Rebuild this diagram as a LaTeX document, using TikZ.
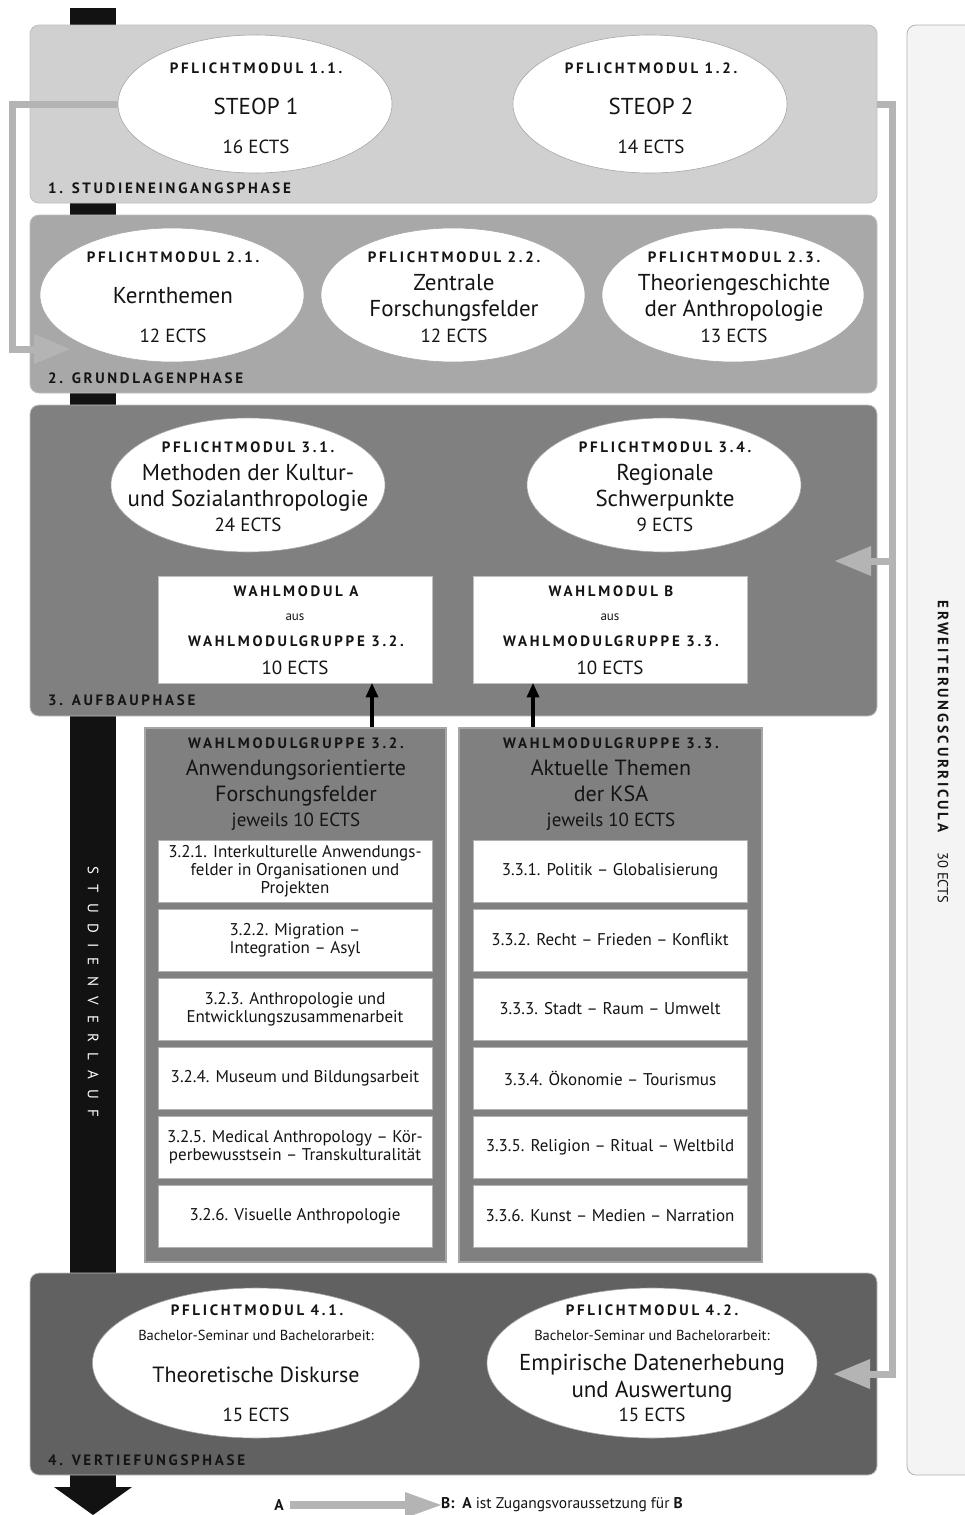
\documentclass[tikz,border=0pt]{standalone}
\usepackage{fontspec}
\setmainfont{PT Sans}
\newfontfamily\spc[LetterSpace=18]{PT Sans}
\newfontfamily\wdsp[LetterSpace=68]{PT Sans}
\usetikzlibrary{shapes.geometric,arrows.meta,calc}
\definecolor{pa}{HTML}{D0D0D0}
\definecolor{pb}{HTML}{A8A8A8}
\definecolor{pc}{HTML}{808080}
\definecolor{pd}{HTML}{616161}
\definecolor{gcol}{HTML}{B4B4B4}
\definecolor{ink}{HTML}{141414}
\definecolor{svk}{HTML}{121212}
\definecolor{erwf}{HTML}{F4F4F4}
\begin{document}
\begin{tikzpicture}[x=1pt,y=-1pt,
  phase/.style={rectangle, rounded corners=9pt, draw=white!75!black, line width=0.8pt, minimum width=847pt, inner sep=0pt},
  ell/.style={ellipse, fill=white, draw=black!35, line width=0.6pt, inner sep=0pt},
  hd/.style={font=\spc\bfseries\fontsize{15}{16}\selectfont, text=ink, inner sep=0pt, anchor=base, yshift=-5.2pt},
  pl/.style={font=\spc\bfseries\fontsize{15}{16}\selectfont, text=ink, inner sep=0pt, anchor=base west, yshift=-5.2pt},
  big/.style={font=\fontsize{23}{25}\selectfont, text=ink, inner sep=0pt, anchor=base, yshift=-8pt},
  mid/.style={font=\fontsize{22}{24}\selectfont, text=ink, inner sep=0pt, anchor=base, yshift=-7.7pt},
  ects/.style={font=\fontsize{19}{21}\selectfont, text=ink, inner sep=0pt, anchor=base, yshift=-6.6pt},
  sm/.style={font=\fontsize{14.5}{16}\selectfont, text=ink, inner sep=0pt, anchor=base, yshift=-5pt},
  aus/.style={font=\fontsize{13}{14}\selectfont, text=ink, inner sep=0pt, anchor=base, yshift=-3.3pt},
  wbox/.style={rectangle, fill=white, draw=black!25, line width=0.6pt, minimum width=274pt, minimum height=107pt, inner sep=0pt},
  wg/.style={rectangle, fill=pc, draw=black!35, line width=1.5pt, minimum height=534pt, inner sep=0pt},
  item/.style={rectangle, fill=white, draw=black!30, line width=0.6pt, minimum width=274pt, minimum height=62pt, inner sep=2pt, align=center, font=\fontsize{17}{18}\selectfont, text=ink},
  gconn/.style={draw=gcol, line width=7pt, line join=miter, -{Triangle[length=36pt,width=30pt,line width=0pt]}},
  barrow/.style={draw=black, line width=3.5pt, -{Triangle[length=14pt,width=13pt,line width=0pt]}},
  lg/.style={font=\fontsize{15.5}{17}\selectfont, text=ink, inner sep=0pt}
]
\useasboundingbox (0,0) rectangle (965,1515);
\fill[white] (0,0) rectangle (965,1515);

% Erweiterungscurricula box
\node[rectangle, rounded corners=9pt, fill=erwf, draw=black!30, line width=0.8pt, minimum width=96pt, minimum height=1450pt, inner sep=0pt] (erw) at (955,750) {};
\node[rotate=-90, inner sep=0pt, text=ink, font=\fontsize{14.5}{16}\selectfont] (erwt) at (943,752) {{\spc\bfseries\fontsize{15}{16}\selectfont ERWEITERUNGSCURRICULA}\hspace{20pt}30 ECTS};

% Studienverlauf arrow
\fill[svk] (70,8) rectangle (116,1488);
\fill[svk] (54,1487) -- (132,1487) -- (93,1515) -- cycle;
\node[rotate=-90, inner sep=0pt, text=white, font=\wdsp\fontsize{15}{17}\selectfont] (svt) at (93,992) {STUDIENVERLAUF};

% Phases
\node[phase, fill=pa, minimum height=178pt] (p1) at (453.5,114) {};
\node[phase, fill=pb, minimum height=178pt] (p2) at (453.5,304) {};
\node[phase, fill=pc, minimum height=311pt] (p3) at (453.5,560.5) {};
\node[phase, fill=pd, minimum height=202pt] (p4) at (453.5,1374) {};
\node[pl] (l1) at (48,188) {1. STUDIENEINGANGSPHASE};
\node[pl] (l2) at (48,378) {2. GRUNDLAGENPHASE};
\node[pl] (l3) at (48,700) {3. AUFBAUPHASE};
\node[pl] (l4) at (48,1460) {4. VERTIEFUNGSPHASE};

% Phase 1
\node[ell, minimum width=274pt, minimum height=138pt] (e11) at (255,104) {};
\node[hd] (e11a) at (256,68) {PFLICHTMODUL 1.1.};
\node[big] (e11b) at (256,106) {STEOP 1};
\node[ects] (e11c) at (256,147) {16 ECTS};
\node[ell, minimum width=274pt, minimum height=138pt] (e12) at (650,104) {};
\node[hd] (e12a) at (651,68) {PFLICHTMODUL 1.2.};
\node[big] (e12b) at (651,106) {STEOP 2};
\node[ects] (e12c) at (651,147) {14 ECTS};

% Phase 2
\node[ell, minimum width=264pt, minimum height=134pt] (e21) at (172,295) {};
\node[hd] (e21a) at (173,257) {PFLICHTMODUL 2.1.};
\node[big] (e21b) at (173,295) {Kernthemen};
\node[ects] (e21c) at (173,336) {12 ECTS};
\node[ell, minimum width=264pt, minimum height=134pt] (e22) at (453,295) {};
\node[hd] (e22a) at (454,257) {PFLICHTMODUL 2.2.};
\node[big] (e22b) at (454,282) {Zentrale};
\node[big] (e22c) at (454,308) {Forschungsfelder};
\node[ects] (e22d) at (454,336) {12 ECTS};
\node[ell, minimum width=262pt, minimum height=134pt] (e23) at (733,295) {};
\node[hd] (e23a) at (734,257) {PFLICHTMODUL 2.3.};
\node[big] (e23b) at (734,282) {Theoriengeschichte};
\node[big] (e23c) at (734,308) {der Anthropologie};
\node[ects] (e23d) at (734,336) {13 ECTS};

% Phase 3
\node[ell, minimum width=274pt, minimum height=134pt] (e31) at (248,485) {};
\node[hd] (e31a) at (248,447) {PFLICHTMODUL 3.1.};
\node[big] (e31b) at (248,472) {Methoden der Kultur-};
\node[big] (e31c) at (248,498) {und Sozialanthropologie};
\node[ects] (e31d) at (248,525) {24 ECTS};
\node[ell, minimum width=274pt, minimum height=134pt] (e34) at (664,485) {};
\node[hd] (e34a) at (665,447) {PFLICHTMODUL 3.4.};
\node[big] (e34b) at (665,472) {Regionale};
\node[big] (e34c) at (665,498) {Schwerpunkte};
\node[ects] (e34d) at (665,525) {9 ECTS};

\node[wbox] (wmA) at (295,629.5) {};
\node[hd] (wmA1) at (296,591) {WAHLMODUL A};
\node[aus] (wmA2) at (295,617) {aus};
\node[hd] (wmA3) at (296,641) {WAHLMODULGRUPPE 3.2.};
\node[ects] (wmA4) at (295,668) {10 ECTS};
\node[wbox] (wmB) at (610,629.5) {};
\node[hd] (wmB1) at (611,591) {WAHLMODUL B};
\node[aus] (wmB2) at (610,617) {aus};
\node[hd] (wmB3) at (611,641) {WAHLMODULGRUPPE 3.3.};
\node[ects] (wmB4) at (610,668) {10 ECTS};

% Wahlmodulgruppen
\node[wg, minimum width=301pt] (wg32) at (295.5,995) {};
\node[hd] (wg32a) at (296,743) {WAHLMODULGRUPPE 3.2.};
\node[mid] (wg32b) at (296,768) {Anwendungsorientierte};
\node[mid] (wg32c) at (296,794) {Forschungsfelder};
\node[ects] (wg32d) at (296,820) {jeweils 10 ECTS};
\node[wg, minimum width=303pt] (wg33) at (610.5,995) {};
\node[hd] (wg33a) at (611,743) {WAHLMODULGRUPPE 3.3.};
\node[mid] (wg33b) at (611,768) {Aktuelle Themen};
\node[mid] (wg33c) at (611,794) {der KSA};
\node[ects] (wg33d) at (611,820) {jeweils 10 ECTS};

\node[item] (i321) at (295,871) {3.2.1. Interkulturelle Anwendungs-\\felder in Organisationen und\\Projekten};
\node[item] (i322) at (295,940) {3.2.2. Migration --\\Integration -- Asyl};
\node[item] (i323) at (295,1009) {3.2.3. Anthropologie und\\Entwicklungszusammenarbeit};
\node[item] (i324) at (295,1078) {3.2.4. Museum und Bildungsarbeit};
\node[item] (i325) at (295,1147) {3.2.5. Medical Anthropology -- Kör-\\perbewusstsein -- Transkulturalität};
\node[item] (i326) at (295,1216) {3.2.6. Visuelle Anthropologie};
\node[item] (i331) at (610,871) {3.3.1. Politik -- Globalisierung};
\node[item] (i332) at (610,940) {3.3.2. Recht -- Frieden -- Konflikt};
\node[item] (i333) at (610,1009) {3.3.3. Stadt -- Raum -- Umwelt};
\node[item] (i334) at (610,1078) {3.3.4. Ökonomie -- Tourismus};
\node[item] (i335) at (610,1147) {3.3.5. Religion -- Ritual -- Weltbild};
\node[item] (i336) at (610,1216) {3.3.6. Kunst -- Medien -- Narration};

\draw[barrow] ([xshift=76.5pt]wg32.north) -- ([xshift=77pt]wmA.south);
\draw[barrow] ([xshift=-77.5pt]wg33.north) -- ([xshift=-77pt]wmB.south);

% Phase 4
\node[ell, minimum width=327pt, minimum height=150pt] (e41) at (256,1363) {};
\node[hd] (e41a) at (257,1310) {PFLICHTMODUL 4.1.};
\node[sm] (e41b) at (256,1335) {Bachelor-Seminar und Bachelorarbeit:};
\node[mid] (e41c) at (256,1375) {Theoretische Diskurse};
\node[ects] (e41d) at (256,1415) {15 ECTS};
\node[ell, minimum width=330pt, minimum height=150pt] (e42) at (652,1363) {};
\node[hd] (e42a) at (652,1310) {PFLICHTMODUL 4.2.};
\node[sm] (e42b) at (652,1335) {Bachelor-Seminar und Bachelorarbeit:};
\node[big] (e42c) at (652,1362) {Empirische Datenerhebung};
\node[big] (e42d) at (652,1389) {und Auswertung};
\node[ects] (e42e) at (652,1415) {15 ECTS};

% Gray prerequisite connectors
\coordinate (lt) at (12,104);
\coordinate (lb2) at (12,349);
\coordinate (c21in) at (70,349);
\draw[gconn] (e11.west) -- (lt) -- (lb2) -- (c21in);
\coordinate (rt) at (892,104);
\coordinate (rm) at (892,561);
\coordinate (rb) at (892,1374);
\coordinate (c3in) at (835,561);
\coordinate (c42in) at (834,1374);
\draw[gconn] (p1.east |- e12.east) -- (rt) -- (rb) -- (c42in);
\draw[gconn] (rm) -- (c3in);

% Legend
\node[lg, font=\bfseries\fontsize{15.5}{17}\selectfont] (la) at (279,1505) {A};
\node[lg, anchor=west] (lb) at (441,1505) {\textbf{B:}\enspace\textbf{A} ist Zugangsvoraussetzung für \textbf{B}};
\draw[draw=gcol, line width=8pt, -{Triangle[length=36pt,width=26pt,line width=0pt]}] ([xshift=6pt]la.east) -- (lb.west);
\end{tikzpicture}
\end{document}
